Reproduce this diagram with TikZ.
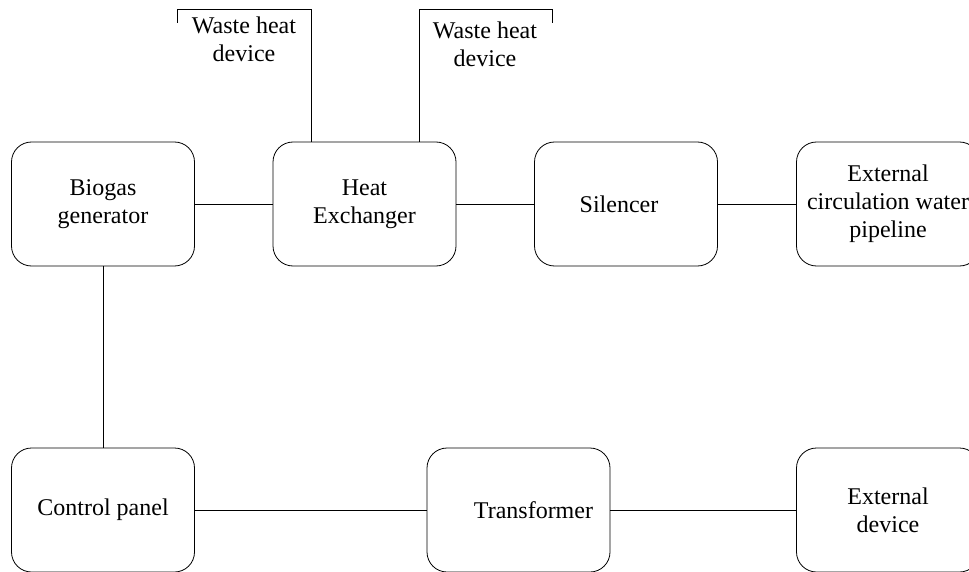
\documentclass[tikz,border=0pt]{standalone}
\usepackage{fontspec}
\setmainfont{Liberation Serif}
\begin{document}
\begin{tikzpicture}[x=1pt,y=-1pt,
  box/.style={draw, rounded corners=20pt, line width=0.8pt, minimum width=183pt, minimum height=124pt, align=center, inner sep=0pt, font=\fontsize{24}{28}\selectfont},
  lbl/.style={align=center, inner sep=0pt, font=\fontsize{24}{28}\selectfont},
  wire/.style={line width=0.8pt}]
\useasboundingbox (0,0) rectangle (969,572);
\node[box] (bio) at (103,204) {Biogas\\generator};
\node[box] (heat) at (364.5,204) {Heat\\Exchanger};
\node[box] (sil) at (626,204) {\hspace*{-14pt}Silencer};
\node[box] (ext) at (888,204) {External\\circulation water\\pipeline};
\node[box] (ctrl) at (103,510) {Control panel};
\node[box] (trans) at (518.5,510) {\hspace*{30pt}Transformer};
\node[box] (dev) at (888,510) {External\\device};
\node[lbl] (w1) at (244,39) {Waste heat\\device};
\node[lbl] (w2) at (485,44) {Waste heat\\device};
\coordinate (w1a) at (177,23);
\coordinate (w2a) at (552,23);
\coordinate (h1) at (311,142);
\coordinate (h2) at (419,142);
\draw[wire] (bio) -- (heat);
\draw[wire] (heat) -- (sil);
\draw[wire] (sil) -- (ext);
\draw[wire] (bio) -- (ctrl);
\draw[wire] (ctrl) -- (trans);
\draw[wire] (trans) -- (dev);
\draw[wire] (w1a) |- (311,9) -- (h1);
\draw[wire] (h2) |- (552,9) -- (w2a);
\end{tikzpicture}
\end{document}
